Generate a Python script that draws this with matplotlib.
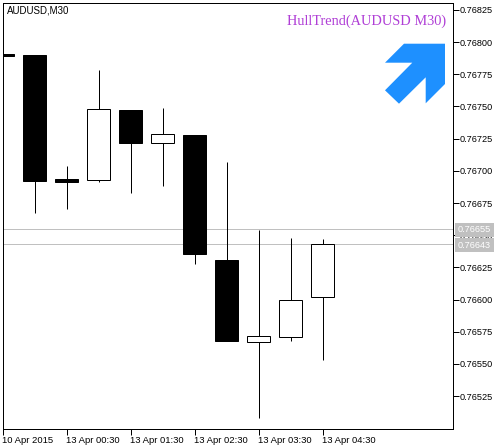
import matplotlib
matplotlib.use('Agg')
import matplotlib.pyplot as plt
from matplotlib.patches import Polygon

plt.rcParams['font.family'] = ['Liberation Sans', 'DejaVu Sans']

# candle values
opens = [0.76791, 0.76790, 0.76694, 0.76693, 0.76747, 0.76722, 0.76728, 0.76631, 0.76567, 0.76571, 0.76602]
closes = [0.76789, 0.76692, 0.76691, 0.76748, 0.76722, 0.76729, 0.76635, 0.76568, 0.76572, 0.76600, 0.76643]
highs = [0.76791, 0.76790, 0.76704, 0.76778, 0.76747, 0.76749, 0.76728, 0.76707, 0.76654, 0.76648, 0.76647]
lows = [0.76789, 0.76667, 0.76670, 0.76691, 0.76683, 0.76688, 0.76628, 0.76568, 0.76508, 0.76568, 0.76553]

tick_positions = [0, 2, 4, 6, 8, 10]
tick_labels = ['10 Apr 2015', '13 Apr 00:30', '13 Apr 01:30', '13 Apr 02:30', '13 Apr 03:30', '13 Apr 04:30']
price_ticks = [0.76525, 0.76550, 0.76575, 0.76600, 0.76625, 0.76650, 0.76675,
               0.76700, 0.76725, 0.76750, 0.76775, 0.76800, 0.76825]
price_levels = [0.76655, 0.76643]

W, H = 504, 448
fig = plt.figure(figsize=(W / 100, H / 100), dpi=100, facecolor='white')
ax = fig.add_axes([2.5 / W, 1 - 428.5 / H, 450 / W, 426 / H])
ax.set_xlim(0, 450 / 32)
ax.set_ylim(0.764998, 0.768308)

# bid / ask lines
for level in price_levels:
    ax.axhline(level, color='#c0c0c0', lw=0.72, zorder=1)

# wicks first, bodies on top
for i in range(len(opens)):
    ax.vlines(i, lows[i], highs[i], color='black', lw=0.72, zorder=2)
    up = closes[i] > opens[i]
    ax.bar(i, closes[i] - opens[i], bottom=opens[i], width=0.69,
           facecolor='white' if up else 'black', edgecolor='black',
           lw=0.72, zorder=3)

ax.yaxis.tick_right()
ax.set_yticks(price_ticks, [f'{p:.5f}' for p in price_ticks])
ax.set_xticks(tick_positions, tick_labels, ha='left')
ax.tick_params(axis='y', length=4, width=0.72, pad=1, labelsize=6.6)
ax.tick_params(axis='x', length=4, width=0.72, pad=1.5, labelsize=6.8)
for spine in ax.spines.values():
    spine.set_linewidth(0.72)

ax.text(4.5 / 450, 1 - 3 / 426, 'AUDUSD,M30', transform=ax.transAxes, va='top', ha='left', fontsize=7)

# current price tags over the axis labels
for level in price_levels:
    ax.text(1 + 5.5 / 450, level, f'{level:.5f}', transform=ax.get_yaxis_transform(),
            va='center_baseline', ha='left', fontsize=6.6, color='white', zorder=5, clip_on=False,
            bbox=dict(boxstyle='square,pad=0.3', facecolor='#c0c0c0', edgecolor='none'))

fig.text(446 / W, 1 - 21 / H, 'HullTrend(AUDUSD M30)', family=['Liberation Serif'],
         color='#b03fd6', fontsize=10.4, ha='right', va='center')

# trend arrow, outline in image pixels
arrow_px = [(385, 62.7), (404, 43.7), (445, 43.7), (445, 84), (425.7, 103.3), (425.7, 77.3),
            (399, 103.7), (385, 90.3), (412.3, 62.7)]
fig.add_artist(Polygon([(x / W, 1 - y / H) for x, y in arrow_px], closed=True,
                       facecolor='#1e90ff', edgecolor='none', transform=fig.transFigure))

fig.savefig('out.png', dpi=100)
